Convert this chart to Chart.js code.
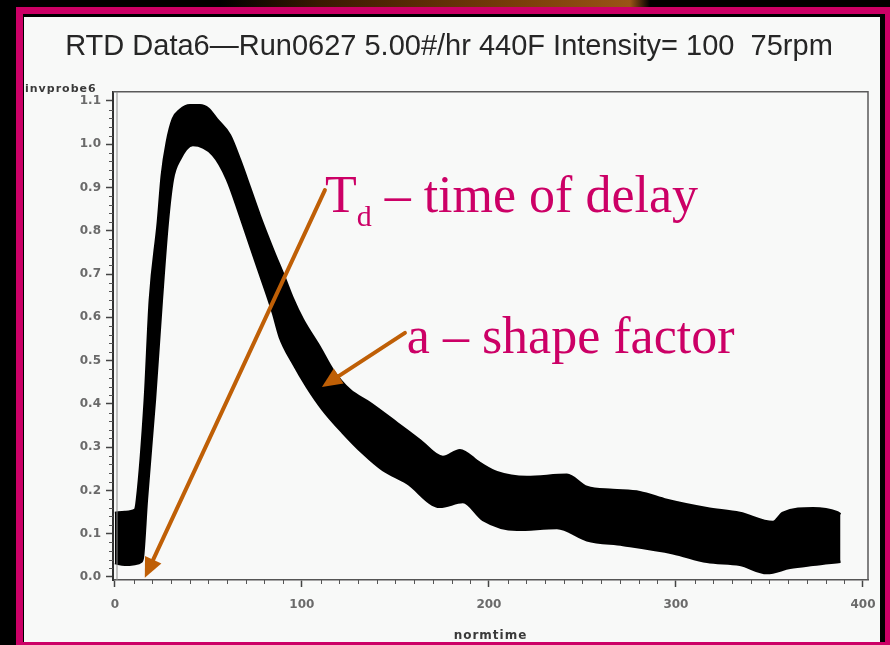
<!DOCTYPE html>
<html>
<head>
<meta charset="utf-8">
<title>RTD Data6 - Run0627</title>
<script src="https://cdn.jsdelivr.net/npm/chart.js@4.4.1/dist/chart.umd.min.js"></script>
<style>
  html, body { margin: 0; padding: 0; background: #000; }
  body { width: 890px; height: 645px; position: relative; overflow: hidden; }
  .swoosh { position: absolute; left: 0; top: 0; width: 890px; height: 7px;
    background: linear-gradient(90deg, #000 0, #000 220px, #3a1a02 320px, #7a3e0a 520px, #9a5416 630px, #000 650px); }
  .frame { position: absolute; left: 16px; top: 7px; width: 874px; height: 638px; background: #cc0066; }
  .gap { position: absolute; left: 23px; top: 14px; width: 862px; height: 628px; background: #000; }
  .panel { position: absolute; left: 24px; top: 17px; width: 856px; height: 625px; background: #f8f9f8; }
  #rtd { position: absolute; left: 0; top: 0; }
</style>
</head>
<body>
<div class="swoosh"></div>
<div class="frame"></div>
<div class="gap"></div>
<div class="panel"></div>
<canvas id="rtd" width="890" height="645"></canvas>

<script>
// RTD 曲线 - 噪声带用上下包络表示

const chartTitle = 'RTD Data6\u2014Run0627 5.00#/hr 440F Intensity= 100  75rpm';
const xAxisName = 'normtime';
const yAxisName = 'invprobe6';

// x 轴 / y 轴刻度
const xTickValues = [0, 100, 200, 300, 400];
const yTickValues = [0.0, 0.1, 0.2, 0.3, 0.4, 0.5, 0.6, 0.7, 0.8, 0.9, 1.0, 1.1];

// 上包络
const upperTime = [0, 5.3, 10.7, 11.8, 16.0, 18.7, 23.0, 25.1, 27.8, 31.0, 34.8, 40.1,
  45.5, 50.0, 54.5, 61.5, 66.8, 72.2, 77.5, 84.5, 90.9, 95.0, 100.5, 109.6, 116.6,
  125.7, 136.4, 150.8, 163.1, 175.4, 184.5, 195.2, 204.3, 220.3, 241.7, 252.4, 266.3,
  280.7, 295.2, 316.6, 334.2, 351.9, 357.2, 373.3, 386.1, 388.0];
const upperValue = [0.148, 0.150, 0.155, 0.178, 0.409, 0.640, 0.820, 0.928, 1.005, 1.058, 1.079, 1.090,
  1.090, 1.082, 1.058, 1.021, 0.965, 0.900, 0.835, 0.757, 0.690, 0.645, 0.595, 0.531, 0.478,
  0.432, 0.402, 0.356, 0.316, 0.277, 0.293, 0.263, 0.242, 0.231, 0.236, 0.208, 0.201,
  0.196, 0.178, 0.159, 0.148, 0.127, 0.148, 0.159, 0.150, 0.145];

// 下包络
const lowerTime = [0, 5.3, 10.7, 14.0, 15.0, 17.1, 21.4, 25.1, 28.3, 31.0, 34.8, 41.7,
  52.4, 59.9, 66.8, 75.5, 84.5, 88.2, 95.2, 102.7, 111.2, 121.9, 132.6, 143.3, 156.1,
  173.8, 186.1, 196.8, 215.0, 236.4, 252.4, 271.7, 298.4, 316.6, 334.2, 348.7, 361.0,
  373.3, 388.0];
const lowerValue = [0.032, 0.028, 0.030, 0.035, 0.046, 0.178, 0.409, 0.640, 0.820, 0.919, 0.965, 0.998,
  0.975, 0.919, 0.836, 0.725, 0.610, 0.554, 0.494, 0.439, 0.386, 0.333, 0.286, 0.247, 0.217,
  0.162, 0.173, 0.132, 0.109, 0.113, 0.085, 0.074, 0.055, 0.035, 0.028, 0.009, 0.021,
  0.028, 0.035];

const upperPoints = upperTime.map((t, i) => ({ x: t, y: upperValue[i] }));
const lowerPoints = lowerTime.map((t, i) => ({ x: t, y: lowerValue[i] }));

const noteColor = '#cc0066';
const arrowColor = '#bf5f06';
const axisNameColor = '#3a3a3a';
const tickColor = '#6a6a6a';

// 标注（数据坐标）
const delayNote = { tx: 112.3, ty: 0.843, from: [112.3, 0.894], to: [16.0, -0.002] };
const shapeNote = { tx: 156.1, ty: 0.517, from: [155.1, 0.564], to: [110.7, 0.439] };

function drawArrow(ctx, x0, y0, x1, y1) {
  const ang = Math.atan2(y1 - y0, x1 - x0);
  const head = 20, half = 9;
  const bx = x1 - head * Math.cos(ang);
  const by = y1 - head * Math.sin(ang);
  ctx.beginPath();
  ctx.moveTo(x0, y0);
  ctx.lineTo(bx, by);
  ctx.stroke();
  ctx.beginPath();
  ctx.moveTo(x1, y1);
  ctx.lineTo(bx + half * Math.sin(ang), by - half * Math.cos(ang));
  ctx.lineTo(bx - half * Math.sin(ang), by + half * Math.cos(ang));
  ctx.closePath();
  ctx.fill();
}

const framePlugin = {
  id: 'rtdFrame',
  afterDraw(chart) {
    const { ctx, chartArea: a, scales: { x, y } } = chart;
    ctx.save();

    // 外框（上、右）+ 左侧双线
    ctx.strokeStyle = '#5a5a5a';
    ctx.lineWidth = 1.5;
    ctx.beginPath();
    ctx.moveTo(a.left, a.top);
    ctx.lineTo(a.right, a.top);
    ctx.lineTo(a.right, a.bottom);
    ctx.stroke();
    ctx.strokeStyle = '#8a8a8a';
    ctx.lineWidth = 1;
    ctx.beginPath();
    ctx.moveTo(a.left + 4, a.top);
    ctx.lineTo(a.left + 4, a.bottom);
    ctx.stroke();

    // 次刻度
    ctx.strokeStyle = '#555';
    ctx.lineWidth = 1;
    ctx.beginPath();
    for (let v = 10; v < 400; v += 10) {
      if (v % 100 === 0) continue;
      const px = Math.round(x.getPixelForValue(v)) + 0.5;
      ctx.moveTo(px, a.bottom);
      ctx.lineTo(px, a.bottom + 4);
    }
    for (let k = 1; k < 56; k++) {
      if (k % 5 === 0) continue;
      const py = Math.round(y.getPixelForValue(k * 0.02)) + 0.5;
      ctx.moveTo(a.left, py);
      ctx.lineTo(a.left - 4, py);
    }
    ctx.stroke();

    // 轴名
    ctx.fillStyle = axisNameColor;
    ctx.font = 'bold 11px "DejaVu Sans"';
    ctx.letterSpacing = '1px';
    ctx.textBaseline = 'alphabetic';
    ctx.textAlign = 'left';
    ctx.fillText(yAxisName, 25, 92);
    ctx.textAlign = 'center';
    ctx.font = 'bold 12px "DejaVu Sans"';
    ctx.fillText(xAxisName, (a.left + a.right) / 2, 639);
    ctx.letterSpacing = '0px';

    // 箭头
    ctx.strokeStyle = arrowColor;
    ctx.fillStyle = arrowColor;
    ctx.lineWidth = 4;
    ctx.lineCap = 'round';
    for (const n of [delayNote, shapeNote]) {
      drawArrow(ctx,
        x.getPixelForValue(n.from[0]), y.getPixelForValue(n.from[1]),
        x.getPixelForValue(n.to[0]), y.getPixelForValue(n.to[1]));
    }

    // 标注文字
    ctx.fillStyle = noteColor;
    ctx.textAlign = 'left';
    ctx.textBaseline = 'alphabetic';
    const serif = '"Liberation Serif", "Times New Roman", serif';
    let tx = x.getPixelForValue(delayNote.tx);
    const ty = y.getPixelForValue(delayNote.ty);
    ctx.font = '52px ' + serif;
    ctx.fillText('T', tx, ty);
    tx += ctx.measureText('T').width;
    ctx.font = '30px ' + serif;
    ctx.fillText('d', tx, ty + 14);
    tx += ctx.measureText('d').width;
    ctx.font = '52px ' + serif;
    ctx.fillText(' \u2013 time of delay', tx, ty);

    ctx.fillText('a \u2013 shape factor',
      x.getPixelForValue(shapeNote.tx), y.getPixelForValue(shapeNote.ty));

    ctx.restore();
  }
};

const tickFont = { family: 'DejaVu Sans', size: 12, weight: 'bold' };

new Chart(document.getElementById('rtd'), {
  type: 'line',
  data: {
    datasets: [
      {
        label: 'upper',
        data: upperPoints,
        borderColor: '#000',
        backgroundColor: '#000',
        borderWidth: 2.5,
        pointRadius: 0,
        cubicInterpolationMode: 'monotone',
        fill: '+1',
      },
      {
        label: 'lower',
        data: lowerPoints,
        borderColor: '#000',
        borderWidth: 2.5,
        pointRadius: 0,
        cubicInterpolationMode: 'monotone',
        fill: false,
      }
    ]
  },
  options: {
    responsive: false,
    animation: false,
    events: [],
    layout: { padding: { left: 30, top: 30, right: 22, bottom: 0 } },
    plugins: {
      legend: { display: false },
      tooltip: { enabled: false },
      title: {
        display: true,
        text: chartTitle,
        color: '#262626',
        font: { family: '"Liberation Sans", Arial, sans-serif', size: 29, weight: 'normal', lineHeight: 1.2 },
        padding: { top: 0, bottom: 27 },
      },
    },
    scales: {
      x: {
        type: 'linear',
        min: -1,
        max: 402.7,
        afterFit: s => { s.height = 65; },
        afterBuildTicks: s => { s.ticks = xTickValues.map(v => ({ value: v })); },
        grid: { drawOnChartArea: false, tickLength: 7, tickColor: '#444', tickWidth: 1.5 },
        border: { display: true, color: '#555', width: 1.5 },
        ticks: { color: tickColor, font: tickFont, padding: 11, maxRotation: 0,
          callback: v => String(v) },
      },
      y: {
        type: 'linear',
        min: -0.007,
        max: 1.121,
        afterFit: s => { s.width = 83; },
        afterBuildTicks: s => { s.ticks = yTickValues.map(v => ({ value: v })); },
        grid: { drawOnChartArea: false, tickLength: 7, tickColor: '#444', tickWidth: 1.5 },
        border: { display: true, color: '#333', width: 2 },
        ticks: { color: tickColor, font: tickFont, padding: 5,
          callback: v => Number(v).toFixed(1) },
      }
    }
  },
  plugins: [framePlugin]
});
</script>
</body>
</html>
